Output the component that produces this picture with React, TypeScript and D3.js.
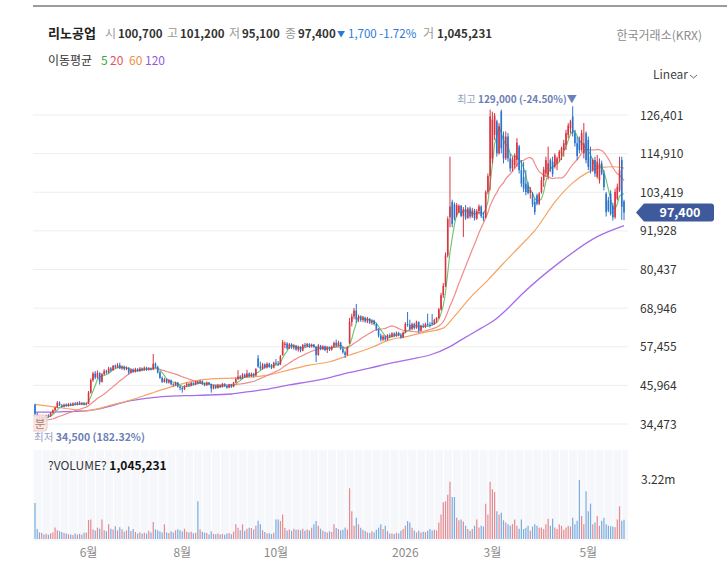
import React from 'react';
import * as d3 from 'd3';

const W = 727;
const H = 573;
const FONT = "'Noto Sans CJK KR', 'Noto Sans', sans-serif";

// daily candles [open, high, low, close] in thousand KRW (2025-04 ~ 2026-05)
const candles: number[][] = [
  [40.2, 40.5, 36.6, 37.4], [37.4, 37.9, 36.2, 36.7], [36.7, 37.0, 34.5, 35.6], [35.6, 36.8, 35.4, 36.5], [36.5, 36.9, 35.9, 36.2],
  [36.2, 37.2, 36.0, 37.0], [37.0, 37.4, 36.5, 36.8], [36.8, 38.0, 36.6, 37.8], [37.8, 38.8, 37.5, 38.6], [38.6, 39.6, 38.3, 39.4],
  [39.4, 41.3, 39.2, 40.8], [40.8, 41.2, 39.8, 40.0], [40.0, 40.4, 39.3, 39.6], [39.6, 40.5, 39.4, 40.2], [40.2, 40.6, 39.6, 39.8],
  [39.8, 40.7, 39.6, 40.4], [40.4, 40.8, 39.8, 40.0], [40.0, 40.9, 39.8, 40.6], [40.6, 41.0, 40.0, 40.2], [40.2, 41.1, 40.0, 40.8],
  [40.8, 41.3, 40.1, 40.3], [40.3, 41.0, 40.1, 40.7], [40.7, 41.0, 40.0, 40.2], [40.2, 40.9, 40.0, 40.5], [40.5, 44.3, 40.4, 43.8],
  [43.8, 48.0, 43.5, 47.5], [47.5, 50.0, 47.0, 49.5], [49.5, 50.2, 47.8, 48.3], [48.3, 50.4, 48.0, 49.6], [49.6, 49.9, 46.2, 47.0],
  [47.0, 49.6, 46.8, 49.3], [49.3, 50.8, 49.0, 50.2], [50.2, 50.6, 49.4, 49.8], [49.8, 51.5, 49.6, 51.0], [51.0, 51.4, 50.0, 50.5],
  [50.5, 52.0, 50.3, 51.8], [51.8, 52.2, 50.9, 51.3], [51.3, 52.6, 51.0, 52.0], [52.0, 52.7, 50.8, 51.0], [51.0, 51.9, 50.6, 51.5],
  [51.5, 51.8, 50.4, 50.8], [50.8, 51.6, 50.5, 51.2], [51.2, 51.4, 49.2, 49.8], [49.8, 51.0, 49.5, 50.6], [50.6, 51.0, 49.7, 50.0],
  [50.0, 51.2, 49.8, 50.8], [50.8, 51.1, 50.0, 50.2], [50.2, 51.4, 50.0, 51.0], [51.0, 51.3, 50.2, 50.5], [50.5, 51.6, 50.3, 51.2],
  [51.2, 51.5, 50.3, 50.6], [50.6, 51.4, 50.4, 51.0], [51.0, 51.3, 50.4, 50.7], [50.7, 55.3, 50.5, 52.4], [52.4, 52.8, 51.2, 51.5],
  [51.5, 51.8, 49.5, 49.8], [49.8, 50.2, 47.9, 48.2], [48.2, 48.6, 46.7, 47.0], [47.0, 48.2, 46.8, 47.8], [47.8, 48.0, 46.5, 46.8],
  [46.8, 47.8, 46.5, 47.5], [47.5, 47.7, 46.0, 46.3], [46.3, 46.6, 45.6, 46.0], [46.0, 47.1, 45.8, 46.8], [46.8, 47.0, 45.3, 45.6],
  [45.6, 45.9, 44.5, 45.2], [45.2, 45.6, 43.8, 44.8], [44.8, 46.0, 44.6, 45.8], [45.8, 46.8, 45.5, 46.4], [46.4, 46.7, 45.6, 45.9],
  [45.9, 47.0, 45.7, 46.7], [46.7, 46.9, 45.9, 46.2], [46.2, 47.3, 46.0, 47.0], [47.0, 47.4, 46.3, 46.6], [46.6, 47.6, 46.4, 47.2],
  [47.2, 47.4, 46.1, 46.4], [46.4, 46.7, 45.7, 46.0], [46.0, 47.1, 45.8, 46.8], [46.8, 47.0, 46.0, 46.3], [46.3, 46.5, 43.8, 45.0],
  [45.0, 46.1, 44.8, 45.8], [45.8, 46.0, 44.9, 45.2], [45.2, 46.3, 45.0, 46.0], [46.0, 46.2, 45.2, 45.5], [45.5, 46.7, 45.3, 46.4],
  [46.4, 46.6, 45.5, 45.8], [45.8, 46.0, 45.0, 45.3], [45.3, 46.4, 45.1, 46.2], [46.2, 46.4, 45.2, 45.6], [45.6, 47.0, 45.4, 46.8],
  [46.8, 48.3, 46.6, 47.8], [47.8, 50.5, 47.6, 48.6], [48.6, 49.0, 47.7, 48.0], [48.0, 49.6, 47.8, 49.2], [49.2, 49.5, 48.2, 48.5],
  [48.5, 50.6, 48.3, 49.5], [49.5, 49.8, 48.4, 48.7], [48.7, 49.8, 48.5, 49.4], [49.4, 49.7, 48.3, 48.9], [48.9, 51.1, 48.7, 50.8],
  [54.0, 55.0, 51.2, 51.6], [51.6, 53.0, 50.5, 51.0], [51.0, 52.6, 50.6, 52.2], [52.2, 52.5, 50.9, 51.3], [51.3, 52.8, 51.0, 52.4],
  [52.4, 52.7, 51.2, 51.6], [51.6, 52.3, 50.8, 51.2], [51.2, 53.0, 51.0, 52.7], [52.7, 53.8, 52.0, 52.4], [52.4, 53.2, 51.8, 52.2],
  [52.2, 55.0, 52.0, 54.6], [55.0, 59.5, 54.8, 58.8], [58.0, 59.0, 57.0, 58.4], [58.4, 58.8, 56.5, 57.0], [57.0, 58.6, 56.8, 58.2],
  [58.2, 58.5, 56.8, 57.2], [57.2, 58.2, 56.6, 57.8], [57.8, 58.0, 56.3, 56.6], [56.6, 57.8, 56.0, 57.4], [57.4, 57.6, 55.8, 56.3],
  [56.3, 58.3, 56.1, 58.0], [58.0, 58.6, 57.2, 57.6], [57.6, 58.6, 57.3, 58.3], [58.3, 58.5, 57.1, 57.5], [57.5, 58.4, 57.2, 58.1],
  [58.1, 58.3, 57.0, 57.4], [57.4, 57.6, 52.9, 55.0], [55.0, 58.3, 54.8, 57.8], [57.8, 58.0, 56.4, 56.8], [56.8, 57.9, 56.5, 57.5],
  [57.5, 57.8, 56.1, 56.5], [56.5, 57.6, 55.6, 57.2], [57.2, 57.5, 56.2, 56.6], [56.6, 57.8, 56.3, 57.5], [57.5, 59.0, 57.2, 58.6],
  [58.6, 59.6, 57.4, 57.8], [57.8, 59.2, 57.5, 58.7], [58.7, 58.9, 56.5, 56.9], [56.9, 57.4, 55.4, 55.8], [55.8, 56.3, 54.1, 55.0],
  [55.0, 57.6, 54.8, 57.3], [58.5, 66.0, 58.3, 64.8], [64.8, 67.3, 63.5, 66.5], [66.5, 69.0, 65.6, 68.2], [68.2, 70.2, 64.5, 65.6],
  [65.6, 67.0, 64.8, 66.3], [66.3, 66.8, 64.9, 65.4], [65.4, 66.6, 64.8, 66.0], [66.0, 66.4, 64.6, 65.0], [65.0, 66.3, 64.5, 65.8],
  [65.8, 66.0, 64.2, 64.6], [64.6, 65.6, 64.0, 65.2], [65.2, 65.5, 63.8, 64.2], [64.2, 64.5, 62.2, 62.6], [62.6, 63.0, 60.2, 60.8],
  [60.8, 61.4, 59.0, 59.6], [59.6, 61.0, 59.2, 60.5], [60.5, 60.8, 59.2, 59.6], [59.6, 61.2, 59.4, 60.9], [60.9, 61.4, 60.0, 60.4],
  [60.4, 61.8, 60.2, 61.4], [61.4, 61.7, 60.3, 60.7], [60.7, 62.0, 60.4, 61.6], [61.6, 61.9, 60.6, 60.9], [60.9, 61.5, 59.8, 60.2],
  [60.2, 62.0, 60.0, 61.7], [61.7, 64.8, 61.5, 64.2], [64.2, 67.8, 63.4, 64.0], [64.0, 65.5, 62.2, 62.8], [62.8, 64.6, 62.4, 64.2],
  [64.2, 64.6, 62.6, 63.0], [63.0, 65.2, 62.8, 64.8], [64.8, 65.0, 61.6, 62.2], [62.2, 64.0, 62.0, 63.7], [63.7, 64.4, 63.0, 63.4],
  [63.4, 64.6, 63.0, 64.2], [64.2, 67.3, 63.6, 64.0], [64.0, 64.8, 63.2, 63.6], [64.6, 67.2, 63.8, 64.2], [64.2, 65.8, 64.0, 65.4],
  [65.4, 66.3, 64.5, 66.0], [66.0, 69.0, 65.8, 68.6], [68.6, 73.5, 68.2, 72.8], [72.8, 76.4, 72.0, 75.6], [75.6, 85.5, 75.2, 84.6],
  [84.6, 96.2, 84.0, 95.4], [96.0, 114.0, 93.0, 99.2], [100.5, 101.2, 93.0, 94.0], [99.8, 100.4, 95.0, 95.6], [96.5, 100.2, 96.0, 99.6],
  [97.6, 99.8, 97.2, 99.4], [99.4, 99.6, 96.0, 96.4], [96.4, 99.0, 90.1, 98.4], [98.4, 99.6, 95.2, 95.8], [95.8, 99.0, 95.5, 98.6],
  [98.6, 99.2, 95.6, 96.2], [96.2, 98.8, 95.8, 98.0], [98.0, 98.5, 95.0, 95.6], [95.6, 98.4, 95.2, 97.8], [97.8, 99.8, 96.8, 99.2],
  [99.2, 99.5, 95.8, 96.3], [96.3, 97.6, 94.8, 95.6], [96.0, 104.0, 95.6, 103.5], [103.5, 109.0, 102.8, 108.2], [108.2, 128.0, 104.0, 126.0],
  [113.5, 127.4, 112.0, 125.0], [120.5, 127.0, 119.0, 126.2], [124.5, 125.0, 114.0, 115.0], [115.0, 124.0, 114.6, 123.0], [127.5, 128.0, 115.0, 116.5],
  [120.0, 121.5, 112.0, 113.5], [113.5, 121.5, 113.0, 120.0], [120.0, 121.0, 112.5, 113.5], [113.5, 115.0, 109.5, 110.5], [110.5, 114.0, 109.6, 113.2],
  [111.5, 115.0, 110.5, 114.2], [113.0, 119.5, 111.0, 118.2], [117.0, 117.5, 109.0, 110.0], [110.0, 113.0, 105.0, 106.0], [108.0, 112.5, 103.5, 104.5],
  [106.0, 110.0, 102.5, 103.5], [105.5, 106.5, 102.8, 103.2], [103.2, 105.0, 101.5, 104.2], [103.0, 103.5, 99.0, 99.8], [100.5, 101.5, 96.7, 97.5],
  [102.5, 103.0, 99.5, 100.0], [100.0, 103.5, 99.6, 103.0], [103.5, 108.0, 103.0, 107.0], [107.0, 111.0, 105.0, 110.2], [109.0, 114.0, 108.0, 113.0],
  [108.5, 117.0, 107.2, 112.0], [113.0, 113.5, 109.5, 110.2], [112.5, 114.0, 108.0, 108.8], [111.0, 115.0, 110.5, 114.4], [112.0, 114.0, 110.0, 113.5],
  [113.5, 116.0, 112.5, 115.5], [115.0, 117.0, 113.0, 116.6], [116.0, 119.0, 114.0, 118.0], [117.5, 122.0, 116.0, 121.0], [120.5, 124.0, 119.5, 123.2],
  [122.5, 125.0, 121.0, 124.5], [126.0, 129.0, 120.0, 121.0], [121.0, 122.0, 117.0, 118.0], [118.0, 120.0, 113.0, 114.2], [119.0, 120.0, 115.0, 116.0],
  [116.0, 122.0, 115.5, 121.0], [115.0, 124.0, 113.5, 118.0], [121.0, 121.5, 112.0, 113.0], [119.0, 120.0, 110.0, 111.0], [114.0, 117.0, 109.0, 110.0],
  [110.0, 113.5, 109.5, 113.0], [113.0, 114.0, 108.0, 109.0], [108.0, 114.5, 107.5, 112.5], [107.0, 113.5, 106.0, 112.0], [112.0, 112.8, 108.5, 109.0],
  [109.0, 110.0, 104.0, 105.0], [103.0, 103.5, 96.2, 97.5], [101.0, 102.0, 97.5, 98.0], [103.0, 104.0, 96.5, 97.0], [99.5, 100.3, 95.0, 96.0],
  [96.0, 104.5, 95.5, 103.5], [101.5, 106.0, 101.0, 105.0], [104.0, 114.0, 103.5, 110.0], [113.0, 114.0, 95.2, 99.1], [100.7, 101.2, 95.1, 97.4],
];

// daily volume, thousand shares
const volumes: number[] = [
  1970, 540, 360, 340, 250, 290, 230, 310, 350, 630,
  480, 430, 380, 330, 300, 260, 240, 220, 300, 250,
  280, 230, 340, 360, 1040, 1070, 520, 470, 620, 560,
  1070, 480, 420, 800, 560, 520, 690, 470, 640, 530,
  400, 470, 680, 430, 540, 380, 300, 370, 280, 340,
  300, 450, 360, 930, 520, 480, 410, 360, 800, 350,
  330, 420, 360, 470, 530, 480, 410, 560, 390, 350,
  390, 320, 340, 2060, 520, 400, 350, 330, 250, 420,
  280, 260, 300, 240, 280, 230, 300, 330, 260, 400,
  800, 620, 480, 800, 450, 560, 620, 600, 520, 720,
  990, 800, 480, 380, 300, 320, 270, 340, 1070, 1070,
  980, 1340, 600, 470, 520, 450, 560, 500, 520, 480,
  560, 450, 520, 470, 620, 800, 980, 720, 560, 450,
  400, 360, 420, 380, 810, 600, 540, 470, 500, 630,
  520, 2770, 1520, 720, 1160, 800, 620, 500, 430, 360,
  330, 420, 360, 500, 620, 810, 540, 720, 430, 300,
  300, 270, 340, 300, 450, 540, 720, 980, 900, 620,
  470, 360, 450, 360, 400, 380, 450, 540, 470, 500,
  470, 900, 1340, 2000, 2060, 2420, 3130, 2290, 2290, 1160,
  1020, 1070, 950, 720, 540, 450, 540, 720, 1070, 630,
  720, 680, 1930, 1340, 3130, 2720, 2560, 1520, 1340, 1430,
  1020, 900, 800, 720, 810, 1070, 720, 560, 1070, 540,
  620, 720, 450, 680, 810, 720, 620, 630, 540, 810,
  1110, 720, 1110, 630, 540, 810, 720, 500, 630, 720,
  680, 1160, 810, 990, 3220, 1250, 810, 2600, 1520, 1930,
  810, 900, 1250, 720, 1000, 1160, 810, 720, 700, 680,
  640, 1070, 1790, 1000, 1045.231,
];

// closes before the first visible day (only feed the 5/20 averages)
const priorCloses = [35.8, 35.2, 34.9, 35.4, 35.0, 34.7, 35.1, 35.5, 35.3, 34.8, 35.0, 35.6, 35.2, 34.9, 35.3, 35.7, 35.4, 35.1, 35.6];

// 60 / 120 day averages: [candle index, thousand KRW]
const ma60Points: [number, number][] = [
  [0, 40.3], [7, 39.7], [16, 38.9], [23, 38.4], [34, 40.1], [43, 41.6], [52, 43.6], [61, 45.5], [70, 47.1],
  [79, 47.9], [88, 48.1], [96, 48.4], [105, 49.1], [114, 50.6], [123, 52.0], [132, 53.0], [141, 55.0],
  [150, 57.0], [159, 59.5], [168, 60.7], [175, 61.8], [183, 63.0], [188, 66.5], [195, 72.0], [203, 77.3],
  [210, 82.3], [218, 87.8], [224, 92.0], [233, 100.5], [241, 106.2], [248, 109.4], [254, 110.8], [259, 111.0], [264, 110.6],
];
const ma120Points: [number, number][] = [
  [0, 38.0], [11, 38.1], [23, 38.4], [29, 39.0], [43, 41.4], [57, 42.6], [73, 43.0], [88, 43.4], [96, 44.1],
  [105, 44.9], [114, 46.1], [123, 47.1], [132, 48.3], [141, 49.8], [150, 51.1], [159, 52.5], [168, 53.7],
  [177, 55.0], [186, 57.5], [191, 59.5], [200, 63.0], [206, 65.4], [212, 68.9], [218, 72.9], [236, 83.0],
  [252, 90.2], [264, 93.5],
];

const priceTicks = [34473, 45964, 57455, 68946, 80437, 91928, 103419, 114910, 126401];
const monthTickIdx = [24, 66, 108, 166, 205, 248];
const monthTickLabels = ['6월', '8월', '10월', '2026', '3월', '5월'];

const headerLabels = ['시', '고', '저', '종'];
const headerValues = ['100,700', '101,200', '95,100', '97,400'];
const headerChange = '1,700 -1.72%';
const headerVolume = '1,045,231';

const UP = '#d8343f';
const DOWN = '#2a74cf';
const VOL_UP = '#e7898e';
const VOL_DOWN = '#79acdf';

const App: React.FC = () => {
  const N = candles.length;
  const x = d3.scaleLinear().domain([0, N - 1]).range([35, 624]);
  const yP = d3.scaleLinear().domain([priceTicks[0], priceTicks[priceTicks.length - 1]]).range([424, 115]);
  const yV = d3.scaleLinear().domain([0, 3220]).range([539, 480]);

  const closes = candles.map((c) => c[3]);
  const all = [...priorCloses, ...closes];
  const ma = (n: number) =>
    closes.map((_, i) => {
      const j = i + priorCloses.length;
      return d3.mean(all.slice(Math.max(0, j - n + 1), j + 1)) as number;
    });
  const ma5 = ma(5);
  const ma20 = ma(20);

  const lineIdx = d3.line<number>().x((_, i) => x(i)).y((v) => yP(v * 1000));
  const linePts = d3
    .line<[number, number]>()
    .x((d) => x(d[0]))
    .y((d) => yP(d[1] * 1000))
    .curve(d3.curveMonotoneX);

  const hiIdx = d3.maxIndex(candles, (c) => c[1]);
  const loIdx = d3.minIndex(candles, (c) => c[2]);
  const hi = candles[hiIdx][1] * 1000;
  const lo = candles[loIdx][2] * 1000;
  const last = closes[N - 1] * 1000;
  const yLast = yP(last);

  const stripes = d3.range(0, N + 4, 4);
  const labelX = [105, 167, 229, 285];
  const fmt = d3.format(',');

  return (
    <svg
      width={W}
      height={H}
      style={{ position: 'absolute', left: 0, top: 0, background: '#fff' }}
      fontFamily={FONT}
    >
      <defs>
        <clipPath id="plot">
          <rect x={33} y={88} width={595} height={360} />
        </clipPath>
      </defs>
      <line x1={33} x2={727} y1={6} y2={6} stroke="#7b7b7b" strokeWidth={1.5} />

      {/* header */}
      <text x={48} y={38} fontSize={13} fontWeight={700} fill="#222">리노공업</text>
      {headerLabels.map((l, k) => (
        <g key={l}>
          <text x={labelX[k]} y={38} fontSize={12} fill="#9a9a9a">{l}</text>
          <text x={labelX[k] + 13} y={38} fontSize={11.5} fontWeight={700} fill="#333">{headerValues[k]}</text>
        </g>
      ))}
      <text x={337} y={36.5} fontSize={8} fill="#2a7ad6">▼</text>
      <text x={348} y={38} fontSize={11.5} fill="#2a7ad6">{headerChange}</text>
      <text x={423} y={38} fontSize={12} fill="#9a9a9a">거</text>
      <text x={437} y={38} fontSize={11.5} fontWeight={700} fill="#333">{headerVolume}</text>
      <text x={702} y={40} fontSize={12} fill="#8c8c8c" textAnchor="end">한국거래소(KRX)</text>

      <text x={48} y={65} fontSize={12} fill="#333">이동평균</text>
      <text x={101} y={65} fontSize={12} fill="#3aa93a">5</text>
      <text x={110} y={65} fontSize={12} fill="#e2545b">20</text>
      <text x={129} y={65} fontSize={12} fill="#ee8f3c">60</text>
      <text x={145} y={65} fontSize={12} fill="#9358e0">120</text>

      <text x={653} y={79} fontSize={12} fill="#444">Linear</text>
      <polyline points="690,75 693.5,78 697,75" fill="none" stroke="#666" strokeWidth={1} />

      {/* price grid + axis */}
      {priceTicks.map((t) => (
        <g key={t}>
          <line x1={33} x2={628} y1={yP(t)} y2={yP(t)} stroke="#eeeeee" />
          <text x={640} y={yP(t) + 4.5} fontSize={12} fill="#333">{fmt(t)}</text>
        </g>
      ))}

      <g clipPath="url(#plot)">
        {/* moving averages */}
        <path d={linePts(ma120Points) || ''} fill="none" stroke="#a76de8" strokeWidth={1.3} />
        <path d={linePts(ma60Points) || ''} fill="none" stroke="#f6a461" strokeWidth={1.2} />
        <path d={lineIdx(ma20) || ''} fill="none" stroke="#f28a8c" strokeWidth={1.2} />
        <path d={lineIdx(ma5) || ''} fill="none" stroke="#6cc46a" strokeWidth={1.1} />

        {/* candles */}
        {candles.map((c, i) => {
          const [o, h, l, cl] = c;
          const col = cl >= o ? UP : DOWN;
          const top = yP(Math.max(o, cl) * 1000);
          const bot = yP(Math.min(o, cl) * 1000);
          return (
            <g key={i}>
              <line x1={x(i)} x2={x(i)} y1={yP(h * 1000)} y2={yP(l * 1000)} stroke={col} strokeWidth={1} />
              <rect x={x(i) - 0.8} y={top} width={1.6} height={Math.max(1, bot - top)} fill={col} />
            </g>
          );
        })}
      </g>

      {/* high / low markers */}
      <text x={x(hiIdx) + 4} y={yP(hi) - 3} fontSize={10} textAnchor="end" fill="#6c7fb6">
        <tspan fill="#93a1c8">최고 </tspan>
        <tspan fontWeight={700}>{fmt(hi)} (-{(((hi - last) / hi) * 100).toFixed(2)}%)▼</tspan>
      </text>
      <g clipPath="url(#plot)">
        <rect x={27} y={415} width={20} height={16} rx={3} fill="#f7e4e1" fillOpacity={0.9} stroke="#e9c9c4" />
        <text x={40} y={427.5} fontSize={11.5} textAnchor="middle" fill="#b07a74">분</text>
      </g>
      <text x={34} y={441} fontSize={10.5} fill="#6c7fb6">
        <tspan fill="#93a1c8">최저 </tspan>
        <tspan fontWeight={700}>{fmt(lo)} ({(((last - lo) / lo) * 100).toFixed(2)}%)</tspan>
      </text>

      {/* last price tag */}
      <path
        d={`M636,${yLast} L644,${yLast - 9} H711 Q714,${yLast - 9} 714,${yLast - 6} V${yLast + 6} Q714,${yLast + 9} 711,${yLast + 9} H644 Z`}
        fill="#3f5a9c"
      />
      <text x={680} y={yLast + 4.5} fontSize={12.5} fontWeight={700} fill="#fff" textAnchor="middle">
        {fmt(last)}
      </text>

      {/* volume panel */}
      <rect x={33} y={450} width={595} height={91} fill="#f5f7fb" />
      {stripes.map((s) => (
        <line key={s} x1={x(s) - 2} x2={x(s) - 2} y1={450} y2={541} stroke="#ffffff" strokeWidth={1} />
      ))}
      {volumes.map((v, i) => {
        const c = candles[i];
        return (
          <line
            key={i}
            x1={x(i)}
            x2={x(i)}
            y1={yV(v)}
            y2={yV(0)}
            stroke={c[3] >= c[0] ? VOL_UP : VOL_DOWN}
            strokeWidth={1.2}
          />
        );
      })}
      <text x={48} y={470} fontSize={12} fill="#333">
        ?VOLUME? <tspan fontWeight={700} fill="#111">{fmt(Math.round(volumes[N - 1] * 1000))}</tspan>
      </text>
      <text x={641} y={484} fontSize={12} fill="#333">{(d3.max(volumes)! / 1000).toFixed(2)}m</text>

      {/* month axis */}
      {monthTickIdx.map((m, k) => (
        <text key={m} x={x(m)} y={557} fontSize={12} fill="#8a8a8a" textAnchor="middle">
          {monthTickLabels[k]}
        </text>
      ))}
    </svg>
  );
};

export default App;
